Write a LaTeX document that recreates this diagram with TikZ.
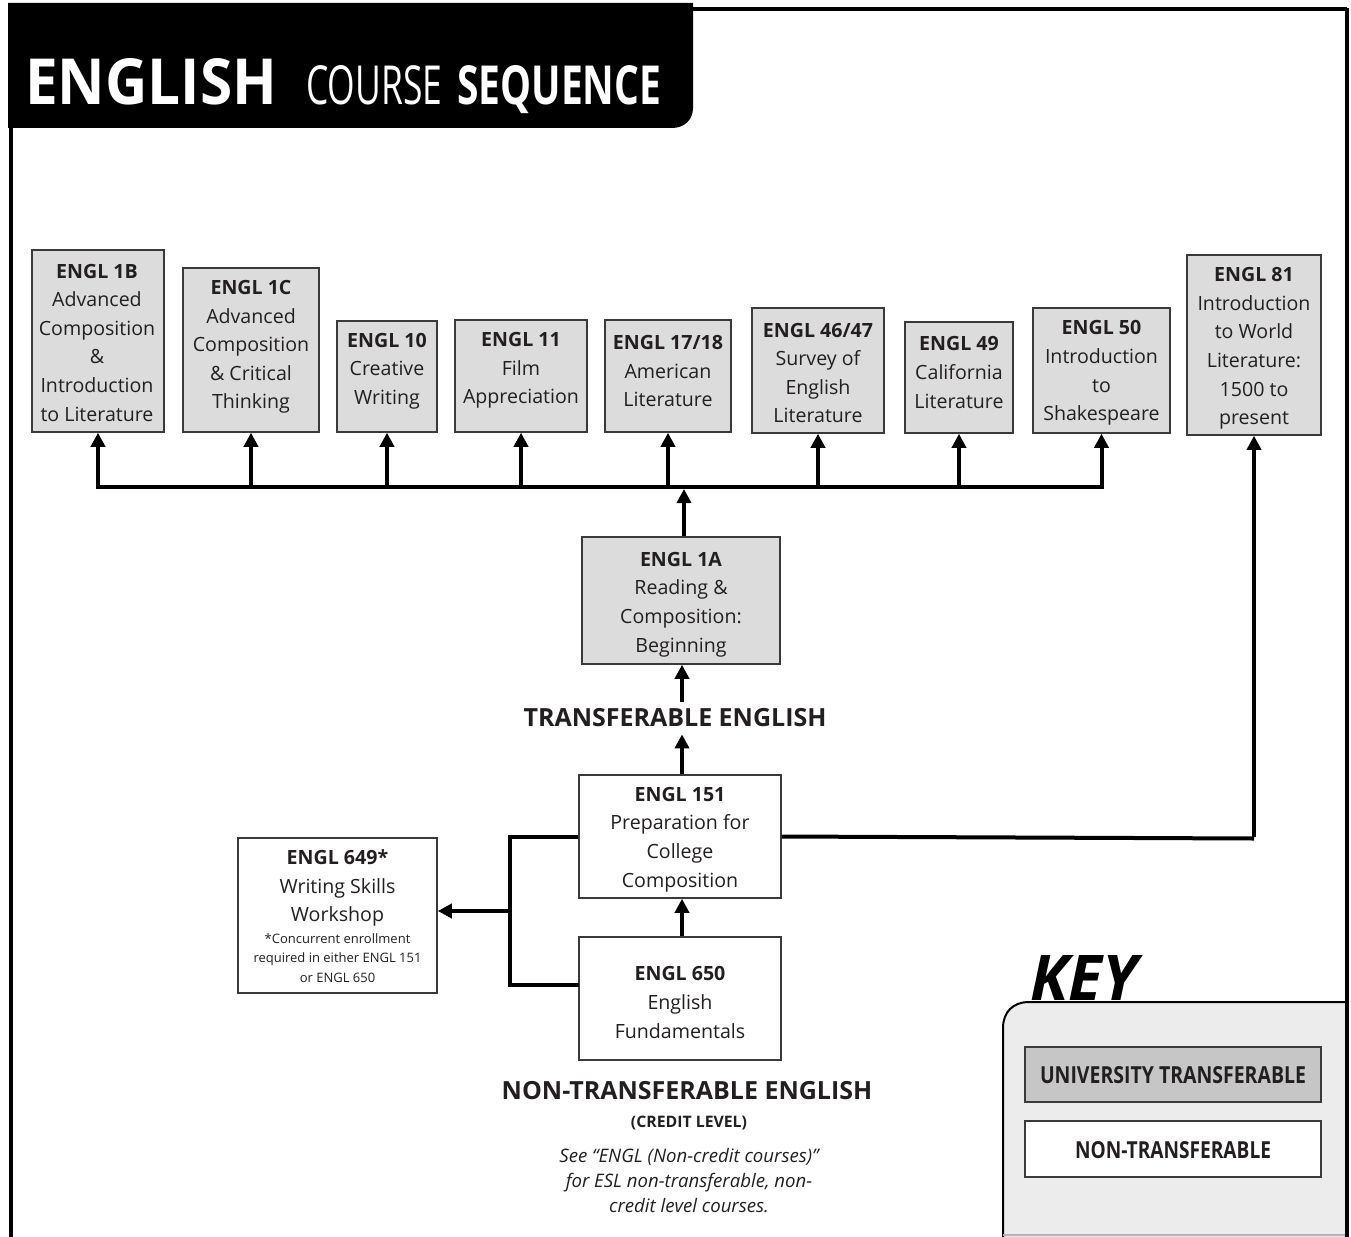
\documentclass[tikz,border=0pt]{standalone}
\usepackage{fontspec}
\setmainfont{Open Sans}
\usetikzlibrary{arrows.meta}
\definecolor{txt}{HTML}{231F20}
\definecolor{boxgray}{HTML}{DCDCDC}
\definecolor{keygray}{HTML}{C6C6C6}
\definecolor{panel}{HTML}{EBECEB}
\definecolor{edge}{HTML}{3A3A3A}
\tikzset{
  course/.style={draw=edge, line width=1.5pt, fill=boxgray, inner sep=0pt},
  plainbox/.style={course, fill=white},
  ctext/.style={align=center, text=txt, font=\fontsize{19.6}{28.6}\selectfont, inner sep=0pt},
  smalltext/.style={align=center, text=txt, font=\fontsize{13}{19.5}\selectfont, inner sep=0pt},
  conn/.style={line width=4pt, black},
  arr/.style={conn, -{Triangle[width=14pt,length=14pt]}},
  frame/.style={line width=4pt, black},
}
\begin{document}
\begin{tikzpicture}[x=1pt,y=-1pt]
\fill[white] (0,0) rectangle (1351,1236);
\useasboundingbox (0,0) rectangle (1351,1236);

% ---- frame and title
\fill[black] (8,3) -- (693,3) -- (693,108) .. controls (693,120) and (684,128) .. (672,128) -- (8,128) -- cycle;
\draw[frame] (11,120) -- (11,1240);
\draw[frame] (690,9.5) -- (1347,9.5);
\node[anchor=base west, inner sep=0pt, text=white] (tEng) at (25,104) {\resizebox{252pt}{46pt}{\bfseries ENGLISH}};
\node[anchor=base west, inner sep=0pt, text=white] (tCourse) at (306,104) {\resizebox{136pt}{39pt}{COURSE}};
\node[anchor=base west, inner sep=0pt, text=white] (tSeq) at (457,104) {\resizebox{204pt}{39pt}{\bfseries SEQUENCE}};

% ---- key panel
\fill[panel] (1003,1240) -- (1003,1028) .. controls (1003,1012) and (1013,1002) .. (1029,1002) -- (1347,1002) -- (1347,1240) -- cycle;
\draw[line width=2pt] (1003,1240) -- (1003,1028) .. controls (1003,1012) and (1013,1002) .. (1029,1002) -- (1347,1002);
\draw[gray!60, line width=1.5pt] (1003,1235) -- (1347,1235);
\draw[frame] (1347,8) -- (1347,1240);
\node[anchor=base west, inner sep=0pt, text=black] (keyword) at (1030,1000) {\resizebox{107pt}{45pt}{\bfseries\itshape KEY}};
\node[course, fill=keygray, minimum width=296pt, minimum height=55pt] (keyT) at (1173,1074.5) {};
\node[inner sep=0pt, text=txt] (keyTt) at (1173,1075) {\resizebox{266pt}{17pt}{\bfseries UNIVERSITY TRANSFERABLE}};
\node[plainbox, minimum width=296pt, minimum height=56pt] (keyN) at (1173,1149) {};
\node[inner sep=0pt, text=txt] (keyNt) at (1173,1150) {\resizebox{196pt}{17pt}{\bfseries NON-TRANSFERABLE}};

% ---- upper course boxes
\node[course, minimum width=132pt, minimum height=182pt] (e1b) at (98,341) {};
\node[ctext] (t1b) at (97,342.5) {\textbf{ENGL 1B}\\Advanced\\Composition\\\&\\Introduction\\to Literature};
\node[course, minimum width=136pt, minimum height=164pt] (e1c) at (251,350) {};
\node[ctext] (t1c) at (251,347) {\textbf{ENGL 1C}\\Advanced\\Composition\\\& Critical\\Thinking};
\node[course, minimum width=100pt, minimum height=111pt] (e10) at (387,376.5) {};
\node[ctext] (t10) at (387,371) {\textbf{ENGL 10}\\Creative\\Writing};
\node[course, minimum width=132pt, minimum height=112pt] (e11) at (521,376) {};
\node[ctext] (t11) at (521,370.5) {\textbf{ENGL 11}\\Film\\Appreciation};
\node[course, minimum width=126pt, minimum height=112pt] (e17) at (668,376) {};
\node[ctext] (t17) at (668,371) {\textbf{ENGL 17/18}\\American\\Literature};
\node[course, minimum width=132pt, minimum height=125pt] (e46) at (818,370.5) {};
\node[ctext] (t46) at (818,373) {\textbf{ENGL 46/47}\\Survey of\\English\\Literature};
\node[course, minimum width=108pt, minimum height=111pt] (e49) at (959,377.5) {};
\node[ctext] (t49) at (959,372.5) {\textbf{ENGL 49}\\California\\Literature};
\node[course, minimum width=137pt, minimum height=125pt] (e50) at (1101.5,370.5) {};
\node[ctext] (t50) at (1101.5,373) {\textbf{ENGL 50}\\Introduction\\to\\Shakespeare};
\node[course, minimum width=134pt, minimum height=180pt] (e81) at (1254,345) {};
\node[ctext] (t81) at (1254,348.5) {\textbf{ENGL 81}\\Introduction\\to World\\Literature:\\1500 to\\present};

% ---- middle and lower boxes
\node[course, minimum width=198pt, minimum height=127pt] (e1a) at (681,600.5) {};
\node[ctext] (t1a) at (681,604.5) {\textbf{ENGL 1A}\\Reading \&\\Composition:\\Beginning};
\node[plainbox, minimum width=202pt, minimum height=123pt] (e151) at (680,836.5) {};
\node[ctext] (t151) at (680,839.5) {\textbf{ENGL 151}\\Preparation for\\College\\Composition};
\node[plainbox, minimum width=202pt, minimum height=123pt] (e650) at (680,998.5) {};
\node[ctext] (t650) at (680,1002.5) {\textbf{ENGL 650}\\English\\Fundamentals};
\node[plainbox, minimum width=199pt, minimum height=155pt] (e649) at (337.5,915.5) {};
\node[ctext] (t649) at (337.5,888) {\textbf{ENGL 649*}\\Writing Skills\\Workshop};
\node[smalltext] (t649s) at (337.5,958) {*Concurrent enrollment\\required in either ENGL 151\\or ENGL 650};

% ---- labels
\node[text=txt, font=\fontsize{25}{29}\selectfont\bfseries, inner xsep=0pt, inner ysep=7pt] (tlabel) at (675,718) {TRANSFERABLE ENGLISH};
\node[text=txt, font=\fontsize{25}{29}\selectfont\bfseries, inner sep=0pt] (ntlabel) at (687,1091) {NON-TRANSFERABLE ENGLISH};
\node[text=txt, font=\fontsize{15.8}{18}\selectfont\bfseries, inner sep=0pt] (credit) at (689,1123) {(CREDIT LEVEL)};
\node[text=txt, font=\fontsize{18.6}{25}\selectfont\itshape, align=center, inner sep=0pt] (note) at (689,1181) {See “ENGL (Non-credit courses)”\\for ESL non-transferable, non-\\credit level courses.};

% ---- connectors
\coordinate (busy) at (0,487);
\draw[conn, line cap=rect] (e1b.south |- busy) -- (e50.south |- busy);
\foreach \n in {e1b,e1c,e10,e11,e17,e46,e49,e50}{
  \draw[arr] (\n.south |- busy) -- (\n.south);
}
\draw[arr, shorten >=2pt] ([xshift=3pt]e1a.north) -- ([xshift=3pt]e1a.north |- busy);
\draw[arr] ([xshift=1pt]e1a.south |- tlabel.north) -- ([xshift=1pt]e1a.south);
\draw[arr] ([xshift=2pt]e151.north) -- ([xshift=2pt]e151.north |- tlabel.south);
\draw[arr] ([xshift=2pt]e650.north) -- ([xshift=2pt]e151.south);

\coordinate (bx) at (510,911);
\coordinate (j650) at (579,985);
\draw[conn] (e151.west) -- (e151.west -| bx) -- (bx |- j650) -- (j650);
\draw[arr] (bx) -- (bx -| e649.east);

\coordinate (rc) at (1254,838.5);
\draw[conn] (e151.east) -- (rc);
\draw[arr] ([yshift=2pt]rc) -- (e81.south);
\end{tikzpicture}
\end{document}
